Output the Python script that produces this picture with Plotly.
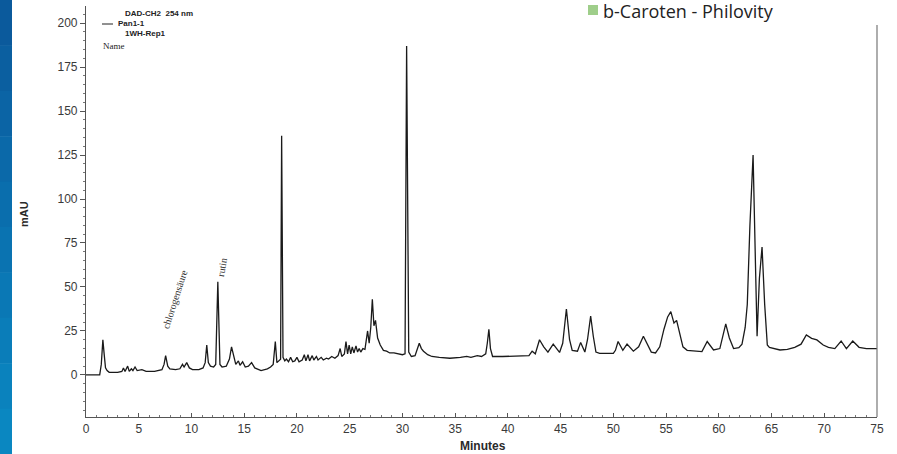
import plotly.graph_objects as go

# ---- data (minutes, mAU) ----
minutes = [0, 1.3, 1.45, 1.6, 1.72, 1.85, 2.0, 2.2, 3.0, 3.4, 3.55, 3.7, 3.95, 4.1, 4.3, 4.45, 4.65, 4.85,
           5.3, 5.7, 6.5, 7.2, 7.4, 7.55, 7.75, 7.95, 8.5, 8.9, 9.15, 9.3, 9.55, 9.8, 10.1, 10.7, 11.1, 11.3,
           11.45, 11.6, 11.8, 12.1, 12.3, 12.5, 12.7, 12.9, 13.3, 13.6, 13.8, 14.0, 14.2, 14.45, 14.6, 14.85,
           15.1, 15.4, 15.7, 16.0, 16.6, 17.2, 17.5, 17.75, 17.95, 18.1, 18.3, 18.45, 18.55, 18.68, 18.85,
           19.0, 19.2, 19.4, 19.6, 19.8, 20.0, 20.2, 20.5, 20.7, 20.85, 21.05, 21.2, 21.45, 21.6, 21.85, 22.0,
           22.3, 22.5, 22.8, 23.0, 23.3, 23.6, 23.9, 24.1, 24.25, 24.5, 24.65, 24.8, 24.95, 25.1, 25.25, 25.4,
           25.6, 25.75, 25.9, 26.05, 26.25, 26.45, 26.7, 26.85, 27.0, 27.15, 27.3, 27.45, 27.65, 27.9, 28.2,
           28.5, 28.8, 29.2, 29.6, 30.0, 30.25, 30.4, 30.6, 30.85, 31.2, 31.45, 31.6, 31.8, 32.0, 32.4, 32.8,
           33.5, 34.5, 35.5, 36.1, 36.5, 37.1, 37.5, 37.9, 38.05, 38.2, 38.35, 38.55, 39.5, 41.0, 42.0, 42.3,
           42.6, 43.0, 43.4, 43.8, 44.3, 44.9, 45.2, 45.55, 45.85, 46.1, 46.6, 46.9, 47.3, 47.55, 47.85, 48.1,
           48.35, 48.7, 50.0, 50.2, 50.45, 50.9, 51.3, 51.9, 52.4, 52.85, 53.2, 53.6, 54.0, 54.4, 54.8, 55.15,
           55.45, 55.75, 56.0, 56.25, 56.6, 57.0, 57.6, 58.4, 58.9, 59.5, 60.1, 60.4, 60.66, 61.0, 61.4, 61.9,
           62.2, 62.5, 62.7, 62.95, 63.25, 63.45, 63.63, 63.85, 64.1, 64.35, 64.6, 64.8, 65.8, 66.5, 67.2,
           67.8, 68.3, 68.8, 69.3, 69.9, 70.4, 71.0, 71.6, 72.1, 72.7, 73.3, 74.0, 75.0]
mau = [0, 0, 6, 20, 12, 4, 2.5, 1.5, 1.5, 2, 4, 2, 5, 2, 3.5, 2.5, 4.5, 2.5,
       3, 2, 2, 3, 6, 11, 5, 3.5, 3, 3.5, 6, 4.5, 7, 4, 3, 3, 4, 7,
       17, 7, 5, 4.5, 6, 53, 6, 4.5, 5, 9, 16, 10, 6, 8, 5.5, 7.5,
       4.5, 5, 7, 4, 2.5, 3.5, 4.5, 6, 19, 7, 8.5, 9, 136, 10, 8,
       9, 7.5, 10, 7.5, 8, 10, 7.5, 8.5, 11.5, 8, 11.5, 8, 11, 8.5, 10.5, 8.5,
       10, 8.5, 9.5, 9, 10.5, 9.5, 11, 15, 10.5, 12, 19, 12, 17, 12, 16, 12.5,
       16.5, 13, 15, 13, 15, 14.5, 25, 18, 27, 43, 28, 31, 21, 17, 14,
       13.5, 12.5, 12.5, 12, 11.5, 12, 187, 13, 10.5, 11, 15, 18, 15, 13.5, 11.5, 10.5,
       10, 9.5, 10, 10.5, 10, 11, 10.5, 12, 18, 26, 15, 10.5, 10.5, 10.8, 11, 13.5,
       12, 20, 16, 13, 17.5, 12.8, 18, 37.5, 20, 14, 13.5, 18.5, 13, 20, 33.5, 22,
       13, 12.3, 12.3, 14, 19, 14, 17.5, 13.5, 16, 22, 18, 13, 12.5, 16, 26, 33,
       36, 29.5, 31, 24, 16, 14, 13.8, 13.3, 19, 14.2, 15, 22, 29, 21, 15, 15.5,
       17.5, 27, 40, 85, 125, 70, 22, 55, 72.7, 40, 17, 15.7, 14.2, 14.5, 15.7,
       17.5, 22.7, 20.8, 19.9, 17, 15.7, 15, 19.3, 15, 19.3, 15.7, 15, 15]

y_ticks = [0, 25, 50, 75, 100, 125, 150, 175, 200]
x_ticks = [0, 5, 10, 15, 20, 25, 30, 35, 40, 45, 50, 55, 60, 65, 70, 75]

W, H = 897, 454
L, R, T, B = 86, 20, 6, 37
PW, PH = W - L - R, H - T - B


def px(x):
    return (x - L) / PW


def py(y):
    return (H - B - y) / PH


fig = go.Figure()
fig.add_trace(go.Scatter(x=minutes, y=mau, mode="lines",
                         line=dict(color="#1a1a1a", width=1.3), showlegend=False,
                         hoverinfo="skip"))

axis_font = dict(family="Liberation Sans, Arial", size=12, color="#3a3a3a")

fig.update_layout(
    width=W, height=H,
    margin=dict(l=L, r=R, t=T, b=B),
    paper_bgcolor="white", plot_bgcolor="white",
    xaxis=dict(range=[0, 75], tickvals=x_ticks, showgrid=False, zeroline=False,
               showline=True, linecolor="#555", linewidth=1.2,
               ticks="inside", ticklen=4, tickcolor="#555",
               minor=dict(dtick=1, ticks="inside", ticklen=2, tickcolor="#777"),
               tickfont=axis_font),
    yaxis=dict(range=[-23.9, 209.7], tickvals=y_ticks, showgrid=False, zeroline=False,
               showline=True, linecolor="#555", linewidth=1.2,
               ticks="outside", ticklen=5, tickcolor="#555",
               minor=dict(dtick=5, ticks="outside", ticklen=2, tickcolor="#777"),
               tickfont=axis_font),
)

shapes = []
# blue slide strip at the left edge (gradient approximated by bands)
blues = ["#0b5a9c", "#0b5fa0", "#0b64a5", "#0b69a9", "#0a6ead", "#0a73b1", "#0a78b5", "#0a7db9",
         "#0a82bd", "#0a87c1"]
n = len(blues)
for i, c in enumerate(blues):
    shapes.append(dict(type="rect", xref="paper", yref="paper",
                       x0=px(0), x1=px(12), y0=py(H * (i + 1) / n + 0.5), y1=py(H * i / n),
                       fillcolor=c, line=dict(width=0), layer="above"))
# right frame line
shapes.append(dict(type="line", xref="paper", yref="paper", x0=1, x1=1, y0=0, y1=py(25),
                   line=dict(color="#777", width=1.2)))
# legend line sample
shapes.append(dict(type="line", xref="paper", yref="paper", x0=px(102), x1=px(113),
                   y0=py(24), y1=py(24), line=dict(color="#222", width=1)))
# green legend square
shapes.append(dict(type="rect", xref="paper", yref="paper", x0=px(588), x1=px(598),
                   y0=py(15), y1=py(5), fillcolor="#9fce8a", line=dict(width=0)))
fig.update_layout(shapes=shapes)

ann = []
def text(x, y, s, size=8, family="Liberation Sans, Arial", xanchor="left", angle=0,
         color="#222", bold=False):
    if bold:
        s = "<b>" + s + "</b>"
    ann.append(dict(x=px(x), y=py(y), xref="paper", yref="paper", text=s, showarrow=False,
                    xanchor=xanchor, yanchor="middle", textangle=angle,
                    font=dict(family=family, size=size, color=color)))

text(123, 14, "DAD-CH2  254 nm", size=8, bold=True)
text(116, 24, "Pan1-1", size=8, bold=True)
text(123, 33, "1WH-Rep1", size=8, bold=True)
text(101, 46, "Name", size=9, family="Liberation Serif, Times New Roman")
text(601, 11, "b-Caroten - Philovity", size=18, family="Open Sans, Noto Sans")
text(483, 446, "Minutes", size=12, xanchor="center", bold=True, color="#2a2a2a")
text(24, 214, "mAU", size=11, xanchor="center", angle=-90, bold=True, color="#2a2a2a")

# peak labels in data coordinates
ann.append(dict(x=8.4, y=43, xref="x", yref="y", text="chlorogensäure", showarrow=False,
                textangle=-72, font=dict(family="Liberation Serif, Times New Roman", size=10,
                                         color="#333")))
ann.append(dict(x=12.9, y=61, xref="x", yref="y", text="rutin", showarrow=False,
                textangle=-80, font=dict(family="Liberation Serif, Times New Roman", size=10,
                                         color="#333")))
fig.update_layout(annotations=ann)

fig.write_html("out.html")
